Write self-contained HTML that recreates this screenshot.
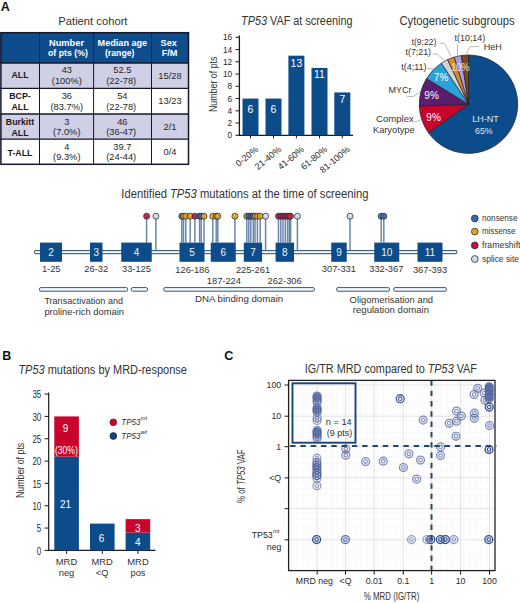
<!DOCTYPE html>
<html><head><meta charset="utf-8"><style>
html,body{margin:0;padding:0;background:#fff;}
svg{display:block;}
svg{fill:#333333;} text{font-family:"Liberation Sans", sans-serif;}
</style></head><body>
<svg width="520" height="603" viewBox="0 0 520 603">
<rect x="0" y="0" width="520" height="603" fill="#fff"/>
<text x="0.80" y="11.20" font-size="12.5" font-weight="bold" fill="#111">A</text>
<text x="58.30" y="24.50" font-size="11.5" textLength="69.20" lengthAdjust="spacingAndGlyphs">Patient cohort</text>
<rect x="0.50" y="32.50" width="188.00" height="30.50" fill="#0e4c8c"/>
<rect x="0.50" y="63.00" width="188.00" height="25.40" fill="#cfd0e6"/>
<rect x="0.50" y="88.40" width="188.00" height="25.60" fill="#ffffff"/>
<rect x="0.50" y="114.00" width="188.00" height="25.20" fill="#cfd0e6"/>
<rect x="0.50" y="139.20" width="188.00" height="25.40" fill="#ffffff"/>
<line x1="39.50" y1="32.50" x2="39.50" y2="63.00" stroke="#0a2f5e" stroke-width="1"/>
<line x1="39.50" y1="63.00" x2="39.50" y2="164.50" stroke="#14172a" stroke-width="1"/>
<line x1="93.60" y1="32.50" x2="93.60" y2="63.00" stroke="#0a2f5e" stroke-width="1"/>
<line x1="93.60" y1="63.00" x2="93.60" y2="164.50" stroke="#14172a" stroke-width="1"/>
<line x1="151.50" y1="32.50" x2="151.50" y2="63.00" stroke="#0a2f5e" stroke-width="1"/>
<line x1="151.50" y1="63.00" x2="151.50" y2="164.50" stroke="#14172a" stroke-width="1"/>
<line x1="0.50" y1="63.00" x2="188.50" y2="63.00" stroke="#14172a" stroke-width="1.4"/>
<line x1="0.50" y1="88.40" x2="188.50" y2="88.40" stroke="#14172a" stroke-width="1.2"/>
<line x1="0.50" y1="114.00" x2="188.50" y2="114.00" stroke="#14172a" stroke-width="1.5"/>
<line x1="0.50" y1="139.20" x2="188.50" y2="139.20" stroke="#14172a" stroke-width="1.2"/>
<rect x="0.9" y="32.7" width="187.6" height="131.6" fill="none" stroke="#14172a" stroke-width="1.5"/>
<text x="66.50" y="45.70" font-size="9.2" text-anchor="middle" font-weight="bold" fill="#fff" textLength="35.00" lengthAdjust="spacingAndGlyphs">Number</text>
<text x="68.00" y="56.00" font-size="9.2" text-anchor="middle" font-weight="bold" fill="#fff" textLength="40.00" lengthAdjust="spacingAndGlyphs">of pts (%)</text>
<text x="122.40" y="45.70" font-size="9.2" text-anchor="middle" font-weight="bold" fill="#fff" textLength="49.60" lengthAdjust="spacingAndGlyphs">Median age</text>
<text x="119.70" y="56.00" font-size="9.2" text-anchor="middle" font-weight="bold" fill="#fff" textLength="29.60" lengthAdjust="spacingAndGlyphs">(range)</text>
<text x="168.80" y="45.60" font-size="9.2" text-anchor="middle" font-weight="bold" fill="#fff">Sex</text>
<text x="169.60" y="56.00" font-size="9.2" text-anchor="middle" font-weight="bold" fill="#fff">F/M</text>
<text x="20.00" y="78.20" font-size="8.8" text-anchor="middle" font-weight="bold" fill="#1a1a1a">ALL</text>
<text x="20.00" y="98.70" font-size="8.8" text-anchor="middle" font-weight="bold" fill="#1a1a1a">BCP-</text>
<text x="20.00" y="109.70" font-size="8.8" text-anchor="middle" font-weight="bold" fill="#1a1a1a">ALL</text>
<text x="20.00" y="124.50" font-size="8.8" text-anchor="middle" font-weight="bold" fill="#1a1a1a">Burkitt</text>
<text x="20.00" y="135.50" font-size="8.8" text-anchor="middle" font-weight="bold" fill="#1a1a1a">ALL</text>
<text x="20.00" y="155.70" font-size="8.8" text-anchor="middle" font-weight="bold" fill="#1a1a1a">T-ALL</text>
<text x="66.80" y="73.00" font-size="9.3" text-anchor="middle" fill="#262626">43</text>
<text x="66.80" y="84.10" font-size="9.3" text-anchor="middle" fill="#262626">(100%)</text>
<text x="122.30" y="73.00" font-size="9.3" text-anchor="middle" fill="#262626">52.5</text>
<text x="121.20" y="84.10" font-size="9.3" text-anchor="middle" fill="#262626">(22-78)</text>
<text x="170.00" y="78.80" font-size="9.3" text-anchor="middle" fill="#262626">15/28</text>
<text x="66.80" y="99.20" font-size="9.3" text-anchor="middle" fill="#262626">36</text>
<text x="66.80" y="109.50" font-size="9.3" text-anchor="middle" fill="#262626">(83.7%)</text>
<text x="122.30" y="99.20" font-size="9.3" text-anchor="middle" fill="#262626">54</text>
<text x="121.20" y="109.50" font-size="9.3" text-anchor="middle" fill="#262626">(22-78)</text>
<text x="170.00" y="104.20" font-size="9.3" text-anchor="middle" fill="#262626">13/23</text>
<text x="66.80" y="124.80" font-size="9.3" text-anchor="middle" fill="#262626">3</text>
<text x="66.80" y="135.10" font-size="9.3" text-anchor="middle" fill="#262626">(7.0%)</text>
<text x="122.30" y="124.80" font-size="9.3" text-anchor="middle" fill="#262626">46</text>
<text x="121.20" y="135.10" font-size="9.3" text-anchor="middle" fill="#262626">(36-47)</text>
<text x="170.00" y="129.80" font-size="9.3" text-anchor="middle" fill="#262626">2/1</text>
<text x="66.80" y="150.00" font-size="9.3" text-anchor="middle" fill="#262626">4</text>
<text x="66.80" y="160.30" font-size="9.3" text-anchor="middle" fill="#262626">(9.3%)</text>
<text x="122.30" y="150.00" font-size="9.3" text-anchor="middle" fill="#262626">39.7</text>
<text x="121.20" y="160.30" font-size="9.3" text-anchor="middle" fill="#262626">(24-44)</text>
<text x="170.00" y="155.00" font-size="9.3" text-anchor="middle" fill="#262626">0/4</text>
<text x="241.00" y="25.00" font-size="12" textLength="111.50" lengthAdjust="spacingAndGlyphs"><tspan font-style="italic">TP53</tspan> VAF at screening</text>
<line x1="239.40" y1="35.50" x2="239.40" y2="135.80" stroke="#1a1a1a" stroke-width="1.3"/>
<line x1="238.50" y1="135.30" x2="353.00" y2="135.30" stroke="#1a1a1a" stroke-width="1.2"/>
<line x1="235.50" y1="135.30" x2="239.40" y2="135.30" stroke="#1a1a1a" stroke-width="1"/>
<text x="232.20" y="138.37" font-size="9.4" text-anchor="end" fill="#2a2a2a" textLength="4.60" lengthAdjust="spacingAndGlyphs">0</text>
<line x1="235.50" y1="123.05" x2="239.40" y2="123.05" stroke="#1a1a1a" stroke-width="1"/>
<text x="232.20" y="126.12" font-size="9.4" text-anchor="end" fill="#2a2a2a" textLength="4.60" lengthAdjust="spacingAndGlyphs">2</text>
<line x1="235.50" y1="110.80" x2="239.40" y2="110.80" stroke="#1a1a1a" stroke-width="1"/>
<text x="232.20" y="113.87" font-size="9.4" text-anchor="end" fill="#2a2a2a" textLength="4.60" lengthAdjust="spacingAndGlyphs">4</text>
<line x1="235.50" y1="98.55" x2="239.40" y2="98.55" stroke="#1a1a1a" stroke-width="1"/>
<text x="232.20" y="101.62" font-size="9.4" text-anchor="end" fill="#2a2a2a" textLength="4.60" lengthAdjust="spacingAndGlyphs">6</text>
<line x1="235.50" y1="86.30" x2="239.40" y2="86.30" stroke="#1a1a1a" stroke-width="1"/>
<text x="232.20" y="89.37" font-size="9.4" text-anchor="end" fill="#2a2a2a" textLength="4.60" lengthAdjust="spacingAndGlyphs">8</text>
<line x1="235.50" y1="74.05" x2="239.40" y2="74.05" stroke="#1a1a1a" stroke-width="1"/>
<text x="232.20" y="77.12" font-size="9.4" text-anchor="end" fill="#2a2a2a" textLength="9.20" lengthAdjust="spacingAndGlyphs">10</text>
<line x1="235.50" y1="61.80" x2="239.40" y2="61.80" stroke="#1a1a1a" stroke-width="1"/>
<text x="232.20" y="64.87" font-size="9.4" text-anchor="end" fill="#2a2a2a" textLength="9.20" lengthAdjust="spacingAndGlyphs">12</text>
<line x1="235.50" y1="49.55" x2="239.40" y2="49.55" stroke="#1a1a1a" stroke-width="1"/>
<text x="232.20" y="52.62" font-size="9.4" text-anchor="end" fill="#2a2a2a" textLength="9.20" lengthAdjust="spacingAndGlyphs">14</text>
<line x1="235.50" y1="37.30" x2="239.40" y2="37.30" stroke="#1a1a1a" stroke-width="1"/>
<text x="232.20" y="40.37" font-size="9.4" text-anchor="end" fill="#2a2a2a" textLength="9.20" lengthAdjust="spacingAndGlyphs">16</text>
<rect x="242.50" y="98.55" width="16.00" height="36.75" fill="#0d4c8a"/>
<text x="250.50" y="113.06" font-size="10.5" text-anchor="middle" fill="#fff">6</text>
<line x1="250.50" y1="135.30" x2="250.50" y2="138.30" stroke="#1a1a1a" stroke-width="1"/>
<text x="258.80" y="150.30" font-size="9" text-anchor="end" fill="#2a2a2a" transform="rotate(-40 258.80 150.30)">0-20%</text>
<rect x="265.50" y="98.55" width="16.00" height="36.75" fill="#0d4c8a"/>
<text x="273.50" y="113.06" font-size="10.5" text-anchor="middle" fill="#fff">6</text>
<line x1="273.50" y1="135.30" x2="273.50" y2="138.30" stroke="#1a1a1a" stroke-width="1"/>
<text x="281.80" y="150.30" font-size="9" text-anchor="end" fill="#2a2a2a" transform="rotate(-40 281.80 150.30)">21-40%</text>
<rect x="288.40" y="55.68" width="16.00" height="79.62" fill="#0d4c8a"/>
<text x="296.40" y="66.86" font-size="10.5" text-anchor="middle" fill="#fff">13</text>
<line x1="296.40" y1="135.30" x2="296.40" y2="138.30" stroke="#1a1a1a" stroke-width="1"/>
<text x="304.70" y="150.30" font-size="9" text-anchor="end" fill="#2a2a2a" transform="rotate(-40 304.70 150.30)">41-60%</text>
<rect x="311.50" y="67.93" width="16.00" height="67.38" fill="#0d4c8a"/>
<text x="319.50" y="77.66" font-size="10.5" text-anchor="middle" fill="#fff">11</text>
<line x1="319.50" y1="135.30" x2="319.50" y2="138.30" stroke="#1a1a1a" stroke-width="1"/>
<text x="327.80" y="150.30" font-size="9" text-anchor="end" fill="#2a2a2a" transform="rotate(-40 327.80 150.30)">61-80%</text>
<rect x="334.30" y="92.43" width="16.00" height="42.88" fill="#0d4c8a"/>
<text x="342.30" y="102.66" font-size="10.5" text-anchor="middle" fill="#fff">7</text>
<line x1="342.30" y1="135.30" x2="342.30" y2="138.30" stroke="#1a1a1a" stroke-width="1"/>
<text x="350.60" y="150.30" font-size="9" text-anchor="end" fill="#2a2a2a" transform="rotate(-40 350.60 150.30)">81-100%</text>
<text x="0" y="0" font-size="10" text-anchor="middle" fill="#333" transform="translate(216.8 84.3) rotate(-90)" textLength="55.6" lengthAdjust="spacingAndGlyphs">Number of pts</text>
<text x="399.40" y="25.20" font-size="12" textLength="115.20" lengthAdjust="spacingAndGlyphs">Cytogenetic subgroups</text>
<path d="M468.50,104.20 L468.50,55.00 A49.2,49.2 0 1 1 428.49,132.83 Z" fill="#0d4c8a" stroke="#1c1c28" stroke-width="0.7" stroke-linejoin="round"/>
<path d="M468.50,104.20 L428.49,132.83 A49.2,49.2 0 0 1 419.33,106.00 Z" fill="#c8042d" stroke="#1c1c28" stroke-width="0.7" stroke-linejoin="round"/>
<path d="M468.50,104.20 L419.33,106.00 A49.2,49.2 0 0 1 426.50,78.57 Z" fill="#5b1d6e" stroke="#1c1c28" stroke-width="0.7" stroke-linejoin="round"/>
<path d="M468.50,104.20 L426.50,78.57 A49.2,49.2 0 0 1 441.35,63.17 Z" fill="#2aa3dc" stroke="#1c1c28" stroke-width="0.7" stroke-linejoin="round"/>
<path d="M468.50,104.20 L441.35,63.17 A49.2,49.2 0 0 1 447.62,59.65 Z" fill="#d2d2d2" stroke="#1c1c28" stroke-width="0.7" stroke-linejoin="round"/>
<path d="M468.50,104.20 L447.62,59.65 A49.2,49.2 0 0 1 454.33,57.09 Z" fill="#d98a2b" stroke="#1c1c28" stroke-width="0.7" stroke-linejoin="round"/>
<path d="M468.50,104.20 L454.33,57.09 A49.2,49.2 0 0 1 461.34,55.52 Z" fill="#a99fe0" stroke="#1c1c28" stroke-width="0.7" stroke-linejoin="round"/>
<path d="M468.50,104.20 L461.34,55.52 A49.2,49.2 0 0 1 468.50,55.00 Z" fill="#7b4a1c" stroke="#1c1c28" stroke-width="0.7" stroke-linejoin="round"/>
<text x="441.10" y="80.98" font-size="10" text-anchor="middle" fill="#fff">7%</text>
<text x="431.60" y="98.58" font-size="10" text-anchor="middle" fill="#fff">9%</text>
<text x="433.60" y="121.38" font-size="10" text-anchor="middle" fill="#fff">9%</text>
<text x="460.20" y="70.72" font-size="10.4" text-anchor="middle" fill="#f3e6d8" textLength="18.50" lengthAdjust="spacingAndGlyphs">10%</text>
<text x="485.50" y="122.04" font-size="9.6" text-anchor="middle" fill="#dce8f8" textLength="26.40" lengthAdjust="spacingAndGlyphs">LH-NT</text>
<text x="483.90" y="133.84" font-size="9.6" text-anchor="middle" fill="#dce8f8" textLength="17.60" lengthAdjust="spacingAndGlyphs">65%</text>
<text x="411.60" y="44.59" font-size="9.2" textLength="24.80" lengthAdjust="spacingAndGlyphs">t(9;22)</text>
<text x="454.60" y="40.59" font-size="9.2" textLength="30.60" lengthAdjust="spacingAndGlyphs">t(10;14)</text>
<text x="483.70" y="49.99" font-size="9.2" textLength="18.20" lengthAdjust="spacingAndGlyphs">HeH</text>
<text x="405.60" y="54.59" font-size="9.2" textLength="25.40" lengthAdjust="spacingAndGlyphs">t(7;21)</text>
<text x="401.20" y="70.09" font-size="9.2" textLength="25.30" lengthAdjust="spacingAndGlyphs">t(4;11)</text>
<text x="388.50" y="93.29" font-size="9.2" textLength="23.00" lengthAdjust="spacingAndGlyphs">MYCr</text>
<text x="376.00" y="122.49" font-size="9.2" textLength="37.80" lengthAdjust="spacingAndGlyphs">Complex</text>
<text x="373.00" y="133.29" font-size="9.2" textLength="41.60" lengthAdjust="spacingAndGlyphs">Karyotype</text>
<polyline points="440.2,43.3 444.6,43.3 450.8,56.2" fill="none" stroke="#a8a8a8" stroke-width="0.8"/>
<polyline points="457.5,43.5 457.5,55.6" fill="none" stroke="#a8a8a8" stroke-width="0.8"/>
<polyline points="479.5,46.6 470.2,46.6 466,54.8" fill="none" stroke="#a8a8a8" stroke-width="0.8"/>
<polyline points="432.8,54 437,54 444.4,60.3" fill="none" stroke="#a8a8a8" stroke-width="0.8"/>
<polyline points="427,68.6 433.5,68.6" fill="none" stroke="#a8a8a8" stroke-width="0.8"/>
<polyline points="407,96.5 413,96.5 419.5,92.5" fill="none" stroke="#a8a8a8" stroke-width="0.8"/>
<polyline points="414.5,122.5 421,119.5" fill="none" stroke="#a8a8a8" stroke-width="0.8"/>
<text x="121.30" y="198.30" font-size="12" textLength="247.20" lengthAdjust="spacingAndGlyphs">Identified <tspan font-style="italic">TP53</tspan> mutations at the time of screening</text>
<rect x="34.6" y="250.6" width="422.2" height="3.1" fill="#eef7fc" stroke="#22405f" stroke-width="0.95" rx="0.6"/>
<line x1="146.60" y1="216.20" x2="146.60" y2="242.60" stroke="#4f729c" stroke-width="1.5" stroke-opacity="0.85"/>
<line x1="155.90" y1="216.20" x2="155.90" y2="250.60" stroke="#4f729c" stroke-width="1.5" stroke-opacity="0.85"/>
<line x1="181.80" y1="216.20" x2="181.80" y2="242.60" stroke="#4f729c" stroke-width="1.5" stroke-opacity="0.85"/>
<line x1="183.50" y1="216.20" x2="183.50" y2="242.60" stroke="#4f729c" stroke-width="1.5" stroke-opacity="0.85"/>
<line x1="185.80" y1="216.20" x2="185.80" y2="242.60" stroke="#4f729c" stroke-width="1.5" stroke-opacity="0.85"/>
<line x1="190.20" y1="216.20" x2="190.20" y2="242.60" stroke="#4f729c" stroke-width="1.5" stroke-opacity="0.85"/>
<line x1="194.90" y1="216.20" x2="194.90" y2="242.60" stroke="#4f729c" stroke-width="1.5" stroke-opacity="0.85"/>
<line x1="199.60" y1="216.20" x2="199.60" y2="242.60" stroke="#4f729c" stroke-width="1.5" stroke-opacity="0.85"/>
<line x1="201.20" y1="216.20" x2="201.20" y2="242.60" stroke="#4f729c" stroke-width="1.5" stroke-opacity="0.85"/>
<line x1="204.00" y1="216.20" x2="204.00" y2="242.60" stroke="#4f729c" stroke-width="1.5" stroke-opacity="0.85"/>
<line x1="212.80" y1="216.20" x2="212.80" y2="242.60" stroke="#4f729c" stroke-width="1.5" stroke-opacity="0.85"/>
<line x1="216.20" y1="216.20" x2="216.20" y2="242.60" stroke="#4f729c" stroke-width="1.5" stroke-opacity="0.85"/>
<line x1="217.80" y1="216.20" x2="217.80" y2="242.60" stroke="#4f729c" stroke-width="1.5" stroke-opacity="0.85"/>
<line x1="234.90" y1="216.20" x2="234.90" y2="242.60" stroke="#4f729c" stroke-width="1.5" stroke-opacity="0.85"/>
<line x1="246.80" y1="216.20" x2="246.80" y2="242.60" stroke="#4f729c" stroke-width="1.5" stroke-opacity="0.85"/>
<line x1="248.80" y1="216.20" x2="248.80" y2="242.60" stroke="#4f729c" stroke-width="1.5" stroke-opacity="0.85"/>
<line x1="250.80" y1="216.20" x2="250.80" y2="242.60" stroke="#4f729c" stroke-width="1.5" stroke-opacity="0.85"/>
<line x1="253.30" y1="216.20" x2="253.30" y2="242.60" stroke="#4f729c" stroke-width="1.5" stroke-opacity="0.85"/>
<line x1="255.00" y1="216.20" x2="255.00" y2="242.60" stroke="#4f729c" stroke-width="1.5" stroke-opacity="0.85"/>
<line x1="257.40" y1="216.20" x2="257.40" y2="242.60" stroke="#4f729c" stroke-width="1.5" stroke-opacity="0.85"/>
<line x1="260.20" y1="216.20" x2="260.20" y2="242.60" stroke="#4f729c" stroke-width="1.5" stroke-opacity="0.85"/>
<line x1="265.60" y1="216.20" x2="265.60" y2="250.60" stroke="#4f729c" stroke-width="1.5" stroke-opacity="0.85"/>
<line x1="278.50" y1="216.20" x2="278.50" y2="242.60" stroke="#4f729c" stroke-width="1.5" stroke-opacity="0.85"/>
<line x1="280.80" y1="216.20" x2="280.80" y2="242.60" stroke="#4f729c" stroke-width="1.5" stroke-opacity="0.85"/>
<line x1="283.00" y1="216.20" x2="283.00" y2="242.60" stroke="#4f729c" stroke-width="1.5" stroke-opacity="0.85"/>
<line x1="285.30" y1="216.20" x2="285.30" y2="242.60" stroke="#4f729c" stroke-width="1.5" stroke-opacity="0.85"/>
<line x1="287.60" y1="216.20" x2="287.60" y2="242.60" stroke="#4f729c" stroke-width="1.5" stroke-opacity="0.85"/>
<line x1="290.60" y1="216.20" x2="290.60" y2="242.60" stroke="#4f729c" stroke-width="1.5" stroke-opacity="0.85"/>
<line x1="289.30" y1="216.20" x2="289.30" y2="242.60" stroke="#4f729c" stroke-width="1.5" stroke-opacity="0.85"/>
<line x1="297.40" y1="216.20" x2="297.40" y2="250.60" stroke="#4f729c" stroke-width="1.5" stroke-opacity="0.85"/>
<line x1="350.00" y1="216.20" x2="350.00" y2="250.60" stroke="#4f729c" stroke-width="1.5" stroke-opacity="0.85"/>
<line x1="381.20" y1="216.20" x2="381.20" y2="242.60" stroke="#4f729c" stroke-width="1.5" stroke-opacity="0.85"/>
<line x1="383.80" y1="216.20" x2="383.80" y2="242.60" stroke="#4f729c" stroke-width="1.5" stroke-opacity="0.85"/>
<rect x="40.00" y="242.60" width="22.00" height="19.20" fill="#0d4c8a"/>
<text x="51.00" y="255.98" font-size="10" text-anchor="middle" fill="#eef4fb">2</text>
<rect x="90.00" y="242.60" width="12.50" height="19.20" fill="#0d4c8a"/>
<text x="96.25" y="255.98" font-size="10" text-anchor="middle" fill="#eef4fb">3</text>
<rect x="121.25" y="242.60" width="30.50" height="19.20" fill="#0d4c8a"/>
<text x="136.50" y="255.98" font-size="10" text-anchor="middle" fill="#eef4fb">4</text>
<rect x="179.50" y="242.60" width="25.00" height="19.20" fill="#0d4c8a"/>
<text x="192.00" y="255.98" font-size="10" text-anchor="middle" fill="#eef4fb">5</text>
<rect x="210.75" y="242.60" width="25.00" height="19.20" fill="#0d4c8a"/>
<text x="223.25" y="255.98" font-size="10" text-anchor="middle" fill="#eef4fb">6</text>
<rect x="243.80" y="242.60" width="18.30" height="19.20" fill="#0d4c8a"/>
<text x="252.95" y="255.98" font-size="10" text-anchor="middle" fill="#eef4fb">7</text>
<rect x="275.60" y="242.60" width="18.40" height="19.20" fill="#0d4c8a"/>
<text x="284.80" y="255.98" font-size="10" text-anchor="middle" fill="#eef4fb">8</text>
<rect x="331.25" y="242.60" width="15.50" height="19.20" fill="#0d4c8a"/>
<text x="339.00" y="255.98" font-size="10" text-anchor="middle" fill="#eef4fb">9</text>
<rect x="374.25" y="242.60" width="25.00" height="19.20" fill="#0d4c8a"/>
<text x="386.75" y="255.98" font-size="10" text-anchor="middle" fill="#eef4fb">10</text>
<rect x="417.50" y="242.60" width="25.00" height="19.20" fill="#0d4c8a"/>
<text x="430.00" y="255.98" font-size="10" text-anchor="middle" fill="#eef4fb">11</text>
<circle cx="146.60" cy="216.20" r="3.00" fill="#c20f3a" stroke="#2b3340" stroke-width="0.8" fill-opacity="0.88"/>
<circle cx="155.90" cy="216.20" r="3.00" fill="#d3d9ec" stroke="#2b3340" stroke-width="0.8" fill-opacity="0.88"/>
<circle cx="181.80" cy="216.20" r="3.00" fill="#3d67a6" stroke="#2b3340" stroke-width="0.8" fill-opacity="0.88"/>
<circle cx="183.50" cy="216.20" r="3.00" fill="#e3a21c" stroke="#2b3340" stroke-width="0.8" fill-opacity="0.88"/>
<circle cx="185.80" cy="216.20" r="3.00" fill="#e3a21c" stroke="#2b3340" stroke-width="0.8" fill-opacity="0.88"/>
<circle cx="190.20" cy="216.20" r="3.00" fill="#e3a21c" stroke="#2b3340" stroke-width="0.8" fill-opacity="0.88"/>
<circle cx="194.90" cy="216.20" r="3.00" fill="#c20f3a" stroke="#2b3340" stroke-width="0.8" fill-opacity="0.88"/>
<circle cx="199.60" cy="216.20" r="3.00" fill="#3d67a6" stroke="#2b3340" stroke-width="0.8" fill-opacity="0.88"/>
<circle cx="201.20" cy="216.20" r="3.00" fill="#3d67a6" stroke="#2b3340" stroke-width="0.8" fill-opacity="0.88"/>
<circle cx="204.00" cy="216.20" r="3.00" fill="#e3a21c" stroke="#2b3340" stroke-width="0.8" fill-opacity="0.88"/>
<circle cx="212.80" cy="216.20" r="3.00" fill="#e3a21c" stroke="#2b3340" stroke-width="0.8" fill-opacity="0.88"/>
<circle cx="216.20" cy="216.20" r="3.00" fill="#e3a21c" stroke="#2b3340" stroke-width="0.8" fill-opacity="0.88"/>
<circle cx="217.80" cy="216.20" r="3.00" fill="#e3a21c" stroke="#2b3340" stroke-width="0.8" fill-opacity="0.88"/>
<circle cx="234.90" cy="216.20" r="3.00" fill="#e3a21c" stroke="#2b3340" stroke-width="0.8" fill-opacity="0.88"/>
<circle cx="246.80" cy="216.20" r="3.00" fill="#e3a21c" stroke="#2b3340" stroke-width="0.8" fill-opacity="0.88"/>
<circle cx="248.80" cy="216.20" r="3.00" fill="#3d67a6" stroke="#2b3340" stroke-width="0.8" fill-opacity="0.88"/>
<circle cx="250.80" cy="216.20" r="3.00" fill="#3d67a6" stroke="#2b3340" stroke-width="0.8" fill-opacity="0.88"/>
<circle cx="253.30" cy="216.20" r="3.00" fill="#3d67a6" stroke="#2b3340" stroke-width="0.8" fill-opacity="0.88"/>
<circle cx="255.00" cy="216.20" r="3.00" fill="#e3a21c" stroke="#2b3340" stroke-width="0.8" fill-opacity="0.88"/>
<circle cx="257.40" cy="216.20" r="3.00" fill="#e3a21c" stroke="#2b3340" stroke-width="0.8" fill-opacity="0.88"/>
<circle cx="260.20" cy="216.20" r="3.00" fill="#e3a21c" stroke="#2b3340" stroke-width="0.8" fill-opacity="0.88"/>
<circle cx="265.60" cy="216.20" r="3.00" fill="#d3d9ec" stroke="#2b3340" stroke-width="0.8" fill-opacity="0.88"/>
<circle cx="278.50" cy="216.20" r="3.00" fill="#c20f3a" stroke="#2b3340" stroke-width="0.8" fill-opacity="0.88"/>
<circle cx="280.80" cy="216.20" r="3.00" fill="#c20f3a" stroke="#2b3340" stroke-width="0.8" fill-opacity="0.88"/>
<circle cx="283.00" cy="216.20" r="3.00" fill="#c20f3a" stroke="#2b3340" stroke-width="0.8" fill-opacity="0.88"/>
<circle cx="285.30" cy="216.20" r="3.00" fill="#c20f3a" stroke="#2b3340" stroke-width="0.8" fill-opacity="0.88"/>
<circle cx="287.60" cy="216.20" r="3.00" fill="#c20f3a" stroke="#2b3340" stroke-width="0.8" fill-opacity="0.88"/>
<circle cx="290.60" cy="216.20" r="3.00" fill="#e3a21c" stroke="#2b3340" stroke-width="0.8" fill-opacity="0.88"/>
<circle cx="289.30" cy="216.20" r="3.00" fill="#c20f3a" stroke="#2b3340" stroke-width="0.8" fill-opacity="0.88"/>
<circle cx="297.40" cy="216.20" r="3.00" fill="#d3d9ec" stroke="#2b3340" stroke-width="0.8" fill-opacity="0.88"/>
<circle cx="350.00" cy="216.20" r="3.00" fill="#d3d9ec" stroke="#2b3340" stroke-width="0.8" fill-opacity="0.88"/>
<circle cx="381.20" cy="216.20" r="3.00" fill="#3d67a6" stroke="#2b3340" stroke-width="0.8" fill-opacity="0.88"/>
<circle cx="383.80" cy="216.20" r="3.00" fill="#3d67a6" stroke="#2b3340" stroke-width="0.8" fill-opacity="0.88"/>
<text x="51.25" y="272.33" font-size="9.3" text-anchor="middle">1-25</text>
<text x="96.25" y="272.33" font-size="9.3" text-anchor="middle">26-32</text>
<text x="136.50" y="272.33" font-size="9.3" text-anchor="middle">33-125</text>
<text x="192.40" y="272.53" font-size="9.3" text-anchor="middle">126-186</text>
<text x="223.90" y="283.63" font-size="9.3" text-anchor="middle">187-224</text>
<text x="253.00" y="272.53" font-size="9.3" text-anchor="middle">225-261</text>
<text x="284.60" y="283.63" font-size="9.3" text-anchor="middle">262-306</text>
<text x="338.90" y="272.33" font-size="9.3" text-anchor="middle">307-331</text>
<text x="386.30" y="272.33" font-size="9.3" text-anchor="middle">332-367</text>
<text x="430.00" y="272.53" font-size="9.3" text-anchor="middle">367-393</text>
<rect x="39.50" y="287.6" width="88.20" height="3.6" fill="#f2f8fd" stroke="#3b5878" stroke-width="1" rx="1.3"/>
<rect x="131.25" y="287.6" width="16.25" height="3.6" fill="#f2f8fd" stroke="#3b5878" stroke-width="1" rx="1.3"/>
<rect x="163.80" y="287.6" width="150.60" height="3.6" fill="#f2f8fd" stroke="#3b5878" stroke-width="1" rx="1.3"/>
<rect x="336.70" y="287.6" width="52.80" height="3.6" fill="#f2f8fd" stroke="#3b5878" stroke-width="1" rx="1.3"/>
<rect x="393.75" y="287.6" width="52.65" height="3.6" fill="#f2f8fd" stroke="#3b5878" stroke-width="1" rx="1.3"/>
<text x="44.40" y="303.67" font-size="9.4" textLength="78.60" lengthAdjust="spacingAndGlyphs">Transactivation and</text>
<text x="44.40" y="314.67" font-size="9.4" textLength="79.60" lengthAdjust="spacingAndGlyphs">proline-rich domain</text>
<text x="195.00" y="302.17" font-size="9.4" textLength="88.20" lengthAdjust="spacingAndGlyphs">DNA binding domain</text>
<text x="349.60" y="302.77" font-size="9.4" textLength="83.50" lengthAdjust="spacingAndGlyphs">Oligomerisation and</text>
<text x="352.80" y="312.97" font-size="9.4" textLength="76.20" lengthAdjust="spacingAndGlyphs">regulation domain</text>
<circle cx="474.80" cy="218.50" r="3.40" fill="#3d67a6" stroke="#26304a" stroke-width="0.8"/>
<text x="482.00" y="221.31" font-size="8.7" textLength="35.50" lengthAdjust="spacingAndGlyphs">nonsense</text>
<circle cx="474.80" cy="231.60" r="3.40" fill="#e3a21c" stroke="#26304a" stroke-width="0.8"/>
<text x="482.00" y="234.41" font-size="8.7" textLength="33.50" lengthAdjust="spacingAndGlyphs">missense</text>
<circle cx="474.80" cy="245.40" r="3.40" fill="#c20f3a" stroke="#26304a" stroke-width="0.8"/>
<text x="482.00" y="248.21" font-size="8.7" textLength="38.50" lengthAdjust="spacingAndGlyphs">frameshift</text>
<circle cx="474.80" cy="259.00" r="3.40" fill="#d3d9ec" stroke="#26304a" stroke-width="0.8"/>
<text x="482.00" y="261.81" font-size="8.7" textLength="37.00" lengthAdjust="spacingAndGlyphs">splice site</text>
<text x="2.20" y="359.70" font-size="12.5" font-weight="bold" fill="#111">B</text>
<text x="18.40" y="373.50" font-size="12" textLength="168.50" lengthAdjust="spacingAndGlyphs"><tspan font-style="italic">TP53</tspan> mutations by MRD-response</text>
<line x1="48.70" y1="392.50" x2="48.70" y2="551.00" stroke="#1a1a1a" stroke-width="1.2"/>
<line x1="48.10" y1="550.40" x2="155.50" y2="550.40" stroke="#1a1a1a" stroke-width="1.2"/>
<line x1="44.60" y1="550.40" x2="48.70" y2="550.40" stroke="#1a1a1a" stroke-width="1"/>
<text x="41.30" y="554.58" font-size="10" text-anchor="end" fill="#2a2a2a" textLength="4.45" lengthAdjust="spacingAndGlyphs">0</text>
<line x1="44.60" y1="528.07" x2="48.70" y2="528.07" stroke="#1a1a1a" stroke-width="1"/>
<text x="41.30" y="532.25" font-size="10" text-anchor="end" fill="#2a2a2a" textLength="4.45" lengthAdjust="spacingAndGlyphs">5</text>
<line x1="44.60" y1="505.74" x2="48.70" y2="505.74" stroke="#1a1a1a" stroke-width="1"/>
<text x="41.30" y="509.92" font-size="10" text-anchor="end" fill="#2a2a2a" textLength="8.90" lengthAdjust="spacingAndGlyphs">10</text>
<line x1="44.60" y1="483.41" x2="48.70" y2="483.41" stroke="#1a1a1a" stroke-width="1"/>
<text x="41.30" y="487.59" font-size="10" text-anchor="end" fill="#2a2a2a" textLength="8.90" lengthAdjust="spacingAndGlyphs">15</text>
<line x1="44.60" y1="461.08" x2="48.70" y2="461.08" stroke="#1a1a1a" stroke-width="1"/>
<text x="41.30" y="465.26" font-size="10" text-anchor="end" fill="#2a2a2a" textLength="8.90" lengthAdjust="spacingAndGlyphs">20</text>
<line x1="44.60" y1="438.75" x2="48.70" y2="438.75" stroke="#1a1a1a" stroke-width="1"/>
<text x="41.30" y="442.93" font-size="10" text-anchor="end" fill="#2a2a2a" textLength="8.90" lengthAdjust="spacingAndGlyphs">25</text>
<line x1="44.60" y1="416.42" x2="48.70" y2="416.42" stroke="#1a1a1a" stroke-width="1"/>
<text x="41.30" y="420.60" font-size="10" text-anchor="end" fill="#2a2a2a" textLength="8.90" lengthAdjust="spacingAndGlyphs">30</text>
<line x1="44.60" y1="394.09" x2="48.70" y2="394.09" stroke="#1a1a1a" stroke-width="1"/>
<text x="41.30" y="398.27" font-size="10" text-anchor="end" fill="#2a2a2a" textLength="8.90" lengthAdjust="spacingAndGlyphs">35</text>
<rect x="54.30" y="456.61" width="24.60" height="93.79" fill="#0d4c8a"/>
<rect x="54.30" y="416.42" width="24.60" height="40.19" fill="#c8042d"/>
<line x1="66.60" y1="550.40" x2="66.60" y2="553.90" stroke="#1a1a1a" stroke-width="1"/>
<rect x="90.00" y="523.60" width="24.60" height="26.80" fill="#0d4c8a"/>
<line x1="102.30" y1="550.40" x2="102.30" y2="553.90" stroke="#1a1a1a" stroke-width="1"/>
<rect x="125.60" y="532.54" width="24.60" height="17.86" fill="#0d4c8a"/>
<rect x="125.60" y="519.14" width="24.60" height="13.40" fill="#c8042d"/>
<line x1="137.90" y1="550.40" x2="137.90" y2="553.90" stroke="#1a1a1a" stroke-width="1"/>
<text x="65.50" y="432.48" font-size="10" text-anchor="middle" fill="#fff">9</text>
<text x="66.40" y="453.88" font-size="10" text-anchor="middle" fill="#fff" textLength="22.80" lengthAdjust="spacingAndGlyphs">(30%)</text>
<text x="65.50" y="508.08" font-size="10" text-anchor="middle" fill="#fff">21</text>
<text x="101.60" y="542.18" font-size="10" text-anchor="middle" fill="#fff">6</text>
<text x="137.80" y="531.78" font-size="10" text-anchor="middle" fill="#fff">3</text>
<text x="137.80" y="545.58" font-size="10" text-anchor="middle" fill="#fff">4</text>
<circle cx="113.30" cy="422.30" r="3.40" fill="#c8002c" stroke="#7a1a2a" stroke-width="0.7"/>
<circle cx="113.30" cy="436.00" r="3.40" fill="#15457f" stroke="#16294a" stroke-width="0.7"/>
<text x="121.30" y="425.20" font-size="9.6" font-style="italic" textLength="19.20" lengthAdjust="spacingAndGlyphs">TP53</text>
<text x="140.60" y="420.30" font-size="6" font-style="italic" textLength="6.60" lengthAdjust="spacingAndGlyphs">mt</text>
<text x="121.30" y="439.10" font-size="9.6" font-style="italic" textLength="19.20" lengthAdjust="spacingAndGlyphs">TP53</text>
<text x="140.60" y="434.20" font-size="6" font-style="italic" textLength="6.60" lengthAdjust="spacingAndGlyphs">wt</text>
<text x="0" y="0" font-size="10" text-anchor="middle" fill="#333" transform="translate(24.3 470.4) rotate(-90)" textLength="55.3" lengthAdjust="spacingAndGlyphs">Number of pts</text>
<text x="66.50" y="565.37" font-size="9.4" text-anchor="middle">MRD</text>
<text x="66.50" y="575.97" font-size="9.4" text-anchor="middle">neg</text>
<text x="102.20" y="565.37" font-size="9.4" text-anchor="middle">MRD</text>
<text x="102.20" y="575.97" font-size="9.4" text-anchor="middle">&lt;Q</text>
<text x="138.00" y="565.37" font-size="9.4" text-anchor="middle">MRD</text>
<text x="138.00" y="575.97" font-size="9.4" text-anchor="middle">pos</text>
<text x="224.30" y="360.00" font-size="12.5" font-weight="bold" fill="#111">C</text>
<text x="304.70" y="373.30" font-size="12" textLength="172.30" lengthAdjust="spacingAndGlyphs">IG/TR MRD compared to <tspan font-style="italic">TP53</tspan> VAF</text>
<g stroke="#f3f3f4" stroke-width="0.5">
<line x1="291.50" y1="380.4" x2="291.50" y2="570.6"/>
<line x1="297.25" y1="380.4" x2="297.25" y2="570.6"/>
<line x1="303.00" y1="380.4" x2="303.00" y2="570.6"/>
<line x1="308.75" y1="380.4" x2="308.75" y2="570.6"/>
<line x1="314.50" y1="380.4" x2="314.50" y2="570.6"/>
<line x1="320.25" y1="380.4" x2="320.25" y2="570.6"/>
<line x1="326.00" y1="380.4" x2="326.00" y2="570.6"/>
<line x1="331.75" y1="380.4" x2="331.75" y2="570.6"/>
<line x1="337.50" y1="380.4" x2="337.50" y2="570.6"/>
<line x1="343.25" y1="380.4" x2="343.25" y2="570.6"/>
<line x1="349.00" y1="380.4" x2="349.00" y2="570.6"/>
<line x1="354.75" y1="380.4" x2="354.75" y2="570.6"/>
<line x1="360.50" y1="380.4" x2="360.50" y2="570.6"/>
<line x1="366.25" y1="380.4" x2="366.25" y2="570.6"/>
<line x1="372.00" y1="380.4" x2="372.00" y2="570.6"/>
<line x1="377.75" y1="380.4" x2="377.75" y2="570.6"/>
<line x1="383.50" y1="380.4" x2="383.50" y2="570.6"/>
<line x1="389.25" y1="380.4" x2="389.25" y2="570.6"/>
<line x1="395.00" y1="380.4" x2="395.00" y2="570.6"/>
<line x1="400.75" y1="380.4" x2="400.75" y2="570.6"/>
<line x1="406.50" y1="380.4" x2="406.50" y2="570.6"/>
<line x1="412.25" y1="380.4" x2="412.25" y2="570.6"/>
<line x1="418.00" y1="380.4" x2="418.00" y2="570.6"/>
<line x1="423.75" y1="380.4" x2="423.75" y2="570.6"/>
<line x1="429.50" y1="380.4" x2="429.50" y2="570.6"/>
<line x1="435.25" y1="380.4" x2="435.25" y2="570.6"/>
<line x1="441.00" y1="380.4" x2="441.00" y2="570.6"/>
<line x1="446.75" y1="380.4" x2="446.75" y2="570.6"/>
<line x1="452.50" y1="380.4" x2="452.50" y2="570.6"/>
<line x1="458.25" y1="380.4" x2="458.25" y2="570.6"/>
<line x1="464.00" y1="380.4" x2="464.00" y2="570.6"/>
<line x1="469.75" y1="380.4" x2="469.75" y2="570.6"/>
<line x1="475.50" y1="380.4" x2="475.50" y2="570.6"/>
<line x1="481.25" y1="380.4" x2="481.25" y2="570.6"/>
<line x1="487.00" y1="380.4" x2="487.00" y2="570.6"/>
<line x1="492.75" y1="380.4" x2="492.75" y2="570.6"/>
<line x1="288.6" y1="383.00" x2="495.0" y2="383.00"/>
<line x1="288.6" y1="389.20" x2="495.0" y2="389.20"/>
<line x1="288.6" y1="395.40" x2="495.0" y2="395.40"/>
<line x1="288.6" y1="401.60" x2="495.0" y2="401.60"/>
<line x1="288.6" y1="407.80" x2="495.0" y2="407.80"/>
<line x1="288.6" y1="414.00" x2="495.0" y2="414.00"/>
<line x1="288.6" y1="420.20" x2="495.0" y2="420.20"/>
<line x1="288.6" y1="426.40" x2="495.0" y2="426.40"/>
<line x1="288.6" y1="432.60" x2="495.0" y2="432.60"/>
<line x1="288.6" y1="438.80" x2="495.0" y2="438.80"/>
<line x1="288.6" y1="445.00" x2="495.0" y2="445.00"/>
<line x1="288.6" y1="451.20" x2="495.0" y2="451.20"/>
<line x1="288.6" y1="457.40" x2="495.0" y2="457.40"/>
<line x1="288.6" y1="463.60" x2="495.0" y2="463.60"/>
<line x1="288.6" y1="469.80" x2="495.0" y2="469.80"/>
<line x1="288.6" y1="476.00" x2="495.0" y2="476.00"/>
<line x1="288.6" y1="482.20" x2="495.0" y2="482.20"/>
<line x1="288.6" y1="488.40" x2="495.0" y2="488.40"/>
<line x1="288.6" y1="494.60" x2="495.0" y2="494.60"/>
<line x1="288.6" y1="500.80" x2="495.0" y2="500.80"/>
<line x1="288.6" y1="507.00" x2="495.0" y2="507.00"/>
<line x1="288.6" y1="513.20" x2="495.0" y2="513.20"/>
<line x1="288.6" y1="519.40" x2="495.0" y2="519.40"/>
<line x1="288.6" y1="525.60" x2="495.0" y2="525.60"/>
<line x1="288.6" y1="531.80" x2="495.0" y2="531.80"/>
<line x1="288.6" y1="538.00" x2="495.0" y2="538.00"/>
<line x1="288.6" y1="544.20" x2="495.0" y2="544.20"/>
<line x1="288.6" y1="550.40" x2="495.0" y2="550.40"/>
<line x1="288.6" y1="556.60" x2="495.0" y2="556.60"/>
<line x1="288.6" y1="562.80" x2="495.0" y2="562.80"/>
<line x1="288.6" y1="569.00" x2="495.0" y2="569.00"/>
</g>
<g stroke="#e3e3e5" stroke-width="1">
<line x1="317.20" y1="380.4" x2="317.20" y2="570.6"/>
<line x1="345.50" y1="380.4" x2="345.50" y2="570.6"/>
<line x1="374.20" y1="380.4" x2="374.20" y2="570.6"/>
<line x1="403.30" y1="380.4" x2="403.30" y2="570.6"/>
<line x1="431.60" y1="380.4" x2="431.60" y2="570.6"/>
<line x1="460.60" y1="380.4" x2="460.60" y2="570.6"/>
<line x1="489.50" y1="380.4" x2="489.50" y2="570.6"/>
<line x1="288.6" y1="385.00" x2="495.0" y2="385.00"/>
<line x1="288.6" y1="416.20" x2="495.0" y2="416.20"/>
<line x1="288.6" y1="446.70" x2="495.0" y2="446.70"/>
<line x1="288.6" y1="477.90" x2="495.0" y2="477.90"/>
<line x1="288.6" y1="508.70" x2="495.0" y2="508.70"/>
<line x1="288.6" y1="539.80" x2="495.0" y2="539.80"/>
</g>
<rect x="485.10" y="382.90" width="8.2" height="18.70" rx="4.1" fill="#4662a6" opacity="0.95"/>
<rect x="312.80" y="392.40" width="8.2" height="9.10" rx="4.1" fill="#5f70ad" opacity="0.85"/>
<rect x="312.80" y="405.30" width="8.2" height="8.50" rx="4.1" fill="#5a6cab" opacity="0.85"/>
<rect x="312.80" y="427.20" width="8.2" height="10.60" rx="4.1" fill="#5a6cab" opacity="0.85"/>
<rect x="312.80" y="463.00" width="8.2" height="8.50" rx="4.1" fill="#6476b2" opacity="0.7"/>
<g opacity="0.75"><circle cx="317.10" cy="396.00" r="3.95" fill="#c9d0ea" fill-opacity="0.25" stroke="#4d5c98" stroke-width="1.3"/><circle cx="317.10" cy="396.00" r="1.8" fill="none" stroke="#4d5c98" stroke-width="1.1"/></g>
<g opacity="0.75"><circle cx="317.10" cy="398.30" r="3.95" fill="#c9d0ea" fill-opacity="0.25" stroke="#4d5c98" stroke-width="1.3"/><circle cx="317.10" cy="398.30" r="1.8" fill="none" stroke="#4d5c98" stroke-width="1.1"/></g>
<g opacity="0.75"><circle cx="317.10" cy="400.50" r="3.95" fill="#c9d0ea" fill-opacity="0.25" stroke="#4d5c98" stroke-width="1.3"/><circle cx="317.10" cy="400.50" r="1.8" fill="none" stroke="#4d5c98" stroke-width="1.1"/></g>
<g opacity="0.62"><circle cx="317.10" cy="402.50" r="3.95" fill="#c9d0ea" fill-opacity="0.25" stroke="#4d5c98" stroke-width="1.3"/><circle cx="317.10" cy="402.50" r="1.8" fill="none" stroke="#4d5c98" stroke-width="1.1"/></g>
<g opacity="0.75"><circle cx="317.10" cy="408.00" r="3.95" fill="#c9d0ea" fill-opacity="0.25" stroke="#4d5c98" stroke-width="1.3"/><circle cx="317.10" cy="408.00" r="1.8" fill="none" stroke="#4d5c98" stroke-width="1.1"/></g>
<g opacity="0.75"><circle cx="317.10" cy="410.00" r="3.95" fill="#c9d0ea" fill-opacity="0.25" stroke="#4d5c98" stroke-width="1.3"/><circle cx="317.10" cy="410.00" r="1.8" fill="none" stroke="#4d5c98" stroke-width="1.1"/></g>
<g opacity="0.75"><circle cx="317.10" cy="412.00" r="3.95" fill="#c9d0ea" fill-opacity="0.25" stroke="#4d5c98" stroke-width="1.3"/><circle cx="317.10" cy="412.00" r="1.8" fill="none" stroke="#4d5c98" stroke-width="1.1"/></g>
<g opacity="0.56"><circle cx="317.10" cy="418.00" r="3.95" fill="#c9d0ea" fill-opacity="0.25" stroke="#4d5c98" stroke-width="1.3"/><circle cx="317.10" cy="418.00" r="1.8" fill="none" stroke="#4d5c98" stroke-width="1.1"/></g>
<g opacity="0.56"><circle cx="317.10" cy="420.50" r="3.95" fill="#c9d0ea" fill-opacity="0.25" stroke="#4d5c98" stroke-width="1.3"/><circle cx="317.10" cy="420.50" r="1.8" fill="none" stroke="#4d5c98" stroke-width="1.1"/></g>
<g opacity="0.75"><circle cx="317.10" cy="430.50" r="3.95" fill="#c9d0ea" fill-opacity="0.25" stroke="#4d5c98" stroke-width="1.3"/><circle cx="317.10" cy="430.50" r="1.8" fill="none" stroke="#4d5c98" stroke-width="1.1"/></g>
<g opacity="0.75"><circle cx="317.10" cy="432.50" r="3.95" fill="#c9d0ea" fill-opacity="0.25" stroke="#4d5c98" stroke-width="1.3"/><circle cx="317.10" cy="432.50" r="1.8" fill="none" stroke="#4d5c98" stroke-width="1.1"/></g>
<g opacity="0.75"><circle cx="317.10" cy="434.50" r="3.95" fill="#c9d0ea" fill-opacity="0.25" stroke="#4d5c98" stroke-width="1.3"/><circle cx="317.10" cy="434.50" r="1.8" fill="none" stroke="#4d5c98" stroke-width="1.1"/></g>
<g opacity="0.62"><circle cx="317.10" cy="436.80" r="3.95" fill="#c9d0ea" fill-opacity="0.25" stroke="#4d5c98" stroke-width="1.3"/><circle cx="317.10" cy="436.80" r="1.8" fill="none" stroke="#4d5c98" stroke-width="1.1"/></g>
<g opacity="0.56"><circle cx="317.10" cy="438.50" r="3.95" fill="#c9d0ea" fill-opacity="0.25" stroke="#4d5c98" stroke-width="1.3"/><circle cx="317.10" cy="438.50" r="1.8" fill="none" stroke="#4d5c98" stroke-width="1.1"/></g>
<g opacity="0.56"><circle cx="316.90" cy="458.20" r="3.95" fill="#c9d0ea" fill-opacity="0.25" stroke="#4d5c98" stroke-width="1.3"/><circle cx="316.90" cy="458.20" r="1.8" fill="none" stroke="#4d5c98" stroke-width="1.1"/></g>
<g opacity="0.75"><circle cx="316.90" cy="462.50" r="3.95" fill="#c9d0ea" fill-opacity="0.25" stroke="#4d5c98" stroke-width="1.3"/><circle cx="316.90" cy="462.50" r="1.8" fill="none" stroke="#4d5c98" stroke-width="1.1"/></g>
<g opacity="0.75"><circle cx="316.90" cy="465.00" r="3.95" fill="#c9d0ea" fill-opacity="0.25" stroke="#4d5c98" stroke-width="1.3"/><circle cx="316.90" cy="465.00" r="1.8" fill="none" stroke="#4d5c98" stroke-width="1.1"/></g>
<g opacity="0.75"><circle cx="316.90" cy="467.50" r="3.95" fill="#c9d0ea" fill-opacity="0.25" stroke="#4d5c98" stroke-width="1.3"/><circle cx="316.90" cy="467.50" r="1.8" fill="none" stroke="#4d5c98" stroke-width="1.1"/></g>
<g opacity="0.69"><circle cx="316.90" cy="470.00" r="3.95" fill="#c9d0ea" fill-opacity="0.25" stroke="#4d5c98" stroke-width="1.3"/><circle cx="316.90" cy="470.00" r="1.8" fill="none" stroke="#4d5c98" stroke-width="1.1"/></g>
<g opacity="0.88"><circle cx="316.90" cy="472.90" r="3.95" fill="#c9d0ea" fill-opacity="0.25" stroke="#4d5c98" stroke-width="1.3"/><circle cx="316.90" cy="472.90" r="1.8" fill="none" stroke="#4d5c98" stroke-width="1.1"/></g>
<g opacity="1.00"><circle cx="316.90" cy="475.50" r="3.95" fill="#c9d0ea" fill-opacity="0.25" stroke="#4d5c98" stroke-width="1.3"/><circle cx="316.90" cy="475.50" r="1.8" fill="none" stroke="#4d5c98" stroke-width="1.1"/></g>
<g opacity="0.56"><circle cx="316.90" cy="478.40" r="3.95" fill="#c9d0ea" fill-opacity="0.25" stroke="#4d5c98" stroke-width="1.3"/><circle cx="316.90" cy="478.40" r="1.8" fill="none" stroke="#4d5c98" stroke-width="1.1"/></g>
<g opacity="0.56"><circle cx="316.90" cy="485.80" r="3.95" fill="#c9d0ea" fill-opacity="0.25" stroke="#4d5c98" stroke-width="1.3"/><circle cx="316.90" cy="485.80" r="1.8" fill="none" stroke="#4d5c98" stroke-width="1.1"/></g>
<g opacity="0.69"><circle cx="345.80" cy="448.90" r="3.95" fill="#c9d0ea" fill-opacity="0.25" stroke="#4d5c98" stroke-width="1.3"/><circle cx="345.80" cy="448.90" r="1.8" fill="none" stroke="#4d5c98" stroke-width="1.1"/></g>
<g opacity="0.69"><circle cx="345.80" cy="455.20" r="3.95" fill="#c9d0ea" fill-opacity="0.25" stroke="#4d5c98" stroke-width="1.3"/><circle cx="345.80" cy="455.20" r="1.8" fill="none" stroke="#4d5c98" stroke-width="1.1"/></g>
<g opacity="0.69"><circle cx="365.60" cy="461.60" r="3.95" fill="#c9d0ea" fill-opacity="0.25" stroke="#4d5c98" stroke-width="1.3"/><circle cx="365.60" cy="461.60" r="1.8" fill="none" stroke="#4d5c98" stroke-width="1.1"/></g>
<g opacity="0.69"><circle cx="383.30" cy="461.20" r="3.95" fill="#c9d0ea" fill-opacity="0.25" stroke="#4d5c98" stroke-width="1.3"/><circle cx="383.30" cy="461.20" r="1.8" fill="none" stroke="#4d5c98" stroke-width="1.1"/></g>
<g opacity="0.69"><circle cx="408.90" cy="453.80" r="3.95" fill="#c9d0ea" fill-opacity="0.25" stroke="#4d5c98" stroke-width="1.3"/><circle cx="408.90" cy="453.80" r="1.8" fill="none" stroke="#4d5c98" stroke-width="1.1"/></g>
<g opacity="0.69"><circle cx="420.50" cy="460.10" r="3.95" fill="#c9d0ea" fill-opacity="0.25" stroke="#4d5c98" stroke-width="1.3"/><circle cx="420.50" cy="460.10" r="1.8" fill="none" stroke="#4d5c98" stroke-width="1.1"/></g>
<g opacity="0.69"><circle cx="403.40" cy="467.50" r="3.95" fill="#c9d0ea" fill-opacity="0.25" stroke="#4d5c98" stroke-width="1.3"/><circle cx="403.40" cy="467.50" r="1.8" fill="none" stroke="#4d5c98" stroke-width="1.1"/></g>
<g opacity="0.69"><circle cx="416.70" cy="479.10" r="3.95" fill="#c9d0ea" fill-opacity="0.25" stroke="#4d5c98" stroke-width="1.3"/><circle cx="416.70" cy="479.10" r="1.8" fill="none" stroke="#4d5c98" stroke-width="1.1"/></g>
<g opacity="1.00"><circle cx="400.20" cy="398.70" r="3.95" fill="#c9d0ea" fill-opacity="0.25" stroke="#4d5c98" stroke-width="1.3"/><circle cx="400.20" cy="398.70" r="1.8" fill="none" stroke="#4d5c98" stroke-width="1.1"/></g>
<g opacity="0.69"><circle cx="423.20" cy="420.10" r="3.95" fill="#c9d0ea" fill-opacity="0.25" stroke="#4d5c98" stroke-width="1.3"/><circle cx="423.20" cy="420.10" r="1.8" fill="none" stroke="#4d5c98" stroke-width="1.1"/></g>
<g opacity="0.69"><circle cx="440.50" cy="446.90" r="3.95" fill="#c9d0ea" fill-opacity="0.25" stroke="#4d5c98" stroke-width="1.3"/><circle cx="440.50" cy="446.90" r="1.8" fill="none" stroke="#4d5c98" stroke-width="1.1"/></g>
<g opacity="0.69"><circle cx="440.50" cy="455.60" r="3.95" fill="#c9d0ea" fill-opacity="0.25" stroke="#4d5c98" stroke-width="1.3"/><circle cx="440.50" cy="455.60" r="1.8" fill="none" stroke="#4d5c98" stroke-width="1.1"/></g>
<g opacity="0.69"><circle cx="477.70" cy="388.30" r="3.95" fill="#c9d0ea" fill-opacity="0.25" stroke="#4d5c98" stroke-width="1.3"/><circle cx="477.70" cy="388.30" r="1.8" fill="none" stroke="#4d5c98" stroke-width="1.1"/></g>
<g opacity="0.69"><circle cx="474.10" cy="394.50" r="3.95" fill="#c9d0ea" fill-opacity="0.25" stroke="#4d5c98" stroke-width="1.3"/><circle cx="474.10" cy="394.50" r="1.8" fill="none" stroke="#4d5c98" stroke-width="1.1"/></g>
<g opacity="0.69"><circle cx="484.20" cy="393.00" r="3.95" fill="#c9d0ea" fill-opacity="0.25" stroke="#4d5c98" stroke-width="1.3"/><circle cx="484.20" cy="393.00" r="1.8" fill="none" stroke="#4d5c98" stroke-width="1.1"/></g>
<g opacity="0.69"><circle cx="484.90" cy="400.30" r="3.95" fill="#c9d0ea" fill-opacity="0.25" stroke="#4d5c98" stroke-width="1.3"/><circle cx="484.90" cy="400.30" r="1.8" fill="none" stroke="#4d5c98" stroke-width="1.1"/></g>
<g opacity="0.75"><circle cx="489.20" cy="386.80" r="3.95" fill="#c9d0ea" fill-opacity="0.25" stroke="#4d5c98" stroke-width="1.3"/><circle cx="489.20" cy="386.80" r="1.8" fill="none" stroke="#4d5c98" stroke-width="1.1"/></g>
<g opacity="0.75"><circle cx="489.20" cy="390.50" r="3.95" fill="#c9d0ea" fill-opacity="0.25" stroke="#4d5c98" stroke-width="1.3"/><circle cx="489.20" cy="390.50" r="1.8" fill="none" stroke="#4d5c98" stroke-width="1.1"/></g>
<g opacity="0.75"><circle cx="489.20" cy="394.50" r="3.95" fill="#c9d0ea" fill-opacity="0.25" stroke="#4d5c98" stroke-width="1.3"/><circle cx="489.20" cy="394.50" r="1.8" fill="none" stroke="#4d5c98" stroke-width="1.1"/></g>
<g opacity="0.75"><circle cx="489.20" cy="398.50" r="3.95" fill="#c9d0ea" fill-opacity="0.25" stroke="#4d5c98" stroke-width="1.3"/><circle cx="489.20" cy="398.50" r="1.8" fill="none" stroke="#4d5c98" stroke-width="1.1"/></g>
<g opacity="1.00"><circle cx="489.20" cy="407.10" r="3.95" fill="#c9d0ea" fill-opacity="0.25" stroke="#2c4a8c" stroke-width="1.3"/><circle cx="489.20" cy="407.10" r="1.8" fill="none" stroke="#2c4a8c" stroke-width="1.1"/></g>
<g opacity="0.69"><circle cx="456.50" cy="411.10" r="3.95" fill="#c9d0ea" fill-opacity="0.25" stroke="#4d5c98" stroke-width="1.3"/><circle cx="456.50" cy="411.10" r="1.8" fill="none" stroke="#4d5c98" stroke-width="1.1"/></g>
<g opacity="0.69"><circle cx="461.40" cy="416.10" r="3.95" fill="#c9d0ea" fill-opacity="0.25" stroke="#4d5c98" stroke-width="1.3"/><circle cx="461.40" cy="416.10" r="1.8" fill="none" stroke="#4d5c98" stroke-width="1.1"/></g>
<g opacity="0.69"><circle cx="456.50" cy="421.20" r="3.95" fill="#c9d0ea" fill-opacity="0.25" stroke="#4d5c98" stroke-width="1.3"/><circle cx="456.50" cy="421.20" r="1.8" fill="none" stroke="#4d5c98" stroke-width="1.1"/></g>
<g opacity="0.69"><circle cx="449.20" cy="423.30" r="3.95" fill="#c9d0ea" fill-opacity="0.25" stroke="#4d5c98" stroke-width="1.3"/><circle cx="449.20" cy="423.30" r="1.8" fill="none" stroke="#4d5c98" stroke-width="1.1"/></g>
<g opacity="0.69"><circle cx="474.40" cy="413.20" r="3.95" fill="#c9d0ea" fill-opacity="0.25" stroke="#4d5c98" stroke-width="1.3"/><circle cx="474.40" cy="413.20" r="1.8" fill="none" stroke="#4d5c98" stroke-width="1.1"/></g>
<g opacity="0.69"><circle cx="474.40" cy="418.30" r="3.95" fill="#c9d0ea" fill-opacity="0.25" stroke="#4d5c98" stroke-width="1.3"/><circle cx="474.40" cy="418.30" r="1.8" fill="none" stroke="#4d5c98" stroke-width="1.1"/></g>
<g opacity="0.69"><circle cx="489.60" cy="425.50" r="3.95" fill="#c9d0ea" fill-opacity="0.25" stroke="#4d5c98" stroke-width="1.3"/><circle cx="489.60" cy="425.50" r="1.8" fill="none" stroke="#4d5c98" stroke-width="1.1"/></g>
<g opacity="0.69"><circle cx="456.00" cy="436.30" r="3.95" fill="#c9d0ea" fill-opacity="0.25" stroke="#4d5c98" stroke-width="1.3"/><circle cx="456.00" cy="436.30" r="1.8" fill="none" stroke="#4d5c98" stroke-width="1.1"/></g>
<g opacity="1.00"><circle cx="489.00" cy="449.50" r="3.95" fill="#c9d0ea" fill-opacity="0.25" stroke="#2c4a8c" stroke-width="1.3"/><circle cx="489.00" cy="449.50" r="1.8" fill="none" stroke="#2c4a8c" stroke-width="1.1"/></g>
<g opacity="1.00"><circle cx="316.60" cy="539.60" r="3.95" fill="#c9d0ea" fill-opacity="0.25" stroke="#2c4a8c" stroke-width="1.3"/><circle cx="316.60" cy="539.60" r="1.8" fill="none" stroke="#2c4a8c" stroke-width="1.1"/></g>
<g opacity="0.88"><circle cx="345.40" cy="539.60" r="3.95" fill="#c9d0ea" fill-opacity="0.25" stroke="#4d5c98" stroke-width="1.3"/><circle cx="345.40" cy="539.60" r="1.8" fill="none" stroke="#4d5c98" stroke-width="1.1"/></g>
<g opacity="0.56"><circle cx="411.50" cy="539.60" r="3.95" fill="#c9d0ea" fill-opacity="0.25" stroke="#4d5c98" stroke-width="1.3"/><circle cx="411.50" cy="539.60" r="1.8" fill="none" stroke="#4d5c98" stroke-width="1.1"/></g>
<g opacity="0.56"><circle cx="427.00" cy="539.60" r="3.95" fill="#c9d0ea" fill-opacity="0.25" stroke="#4d5c98" stroke-width="1.3"/><circle cx="427.00" cy="539.60" r="1.8" fill="none" stroke="#4d5c98" stroke-width="1.1"/></g>
<g opacity="1.00"><circle cx="430.80" cy="539.60" r="3.95" fill="#c9d0ea" fill-opacity="0.25" stroke="#2c4a8c" stroke-width="1.3"/><circle cx="430.80" cy="539.60" r="1.8" fill="none" stroke="#2c4a8c" stroke-width="1.1"/></g>
<g opacity="1.00"><circle cx="440.40" cy="539.60" r="3.95" fill="#c9d0ea" fill-opacity="0.25" stroke="#2c4a8c" stroke-width="1.3"/><circle cx="440.40" cy="539.60" r="1.8" fill="none" stroke="#2c4a8c" stroke-width="1.1"/></g>
<g opacity="1.00"><circle cx="445.40" cy="539.60" r="3.95" fill="#c9d0ea" fill-opacity="0.25" stroke="#2c4a8c" stroke-width="1.3"/><circle cx="445.40" cy="539.60" r="1.8" fill="none" stroke="#2c4a8c" stroke-width="1.1"/></g>
<g opacity="0.62"><circle cx="453.80" cy="539.60" r="3.95" fill="#c9d0ea" fill-opacity="0.25" stroke="#4d5c98" stroke-width="1.3"/><circle cx="453.80" cy="539.60" r="1.8" fill="none" stroke="#4d5c98" stroke-width="1.1"/></g>
<g opacity="1.00"><circle cx="488.80" cy="539.60" r="3.95" fill="#c9d0ea" fill-opacity="0.25" stroke="#2c4a8c" stroke-width="1.3"/><circle cx="488.80" cy="539.60" r="1.8" fill="none" stroke="#2c4a8c" stroke-width="1.1"/></g>
<line x1="288.6" y1="446.0" x2="496.5" y2="446.0" stroke="#23476e" stroke-width="2" stroke-dasharray="5.4 4.9" stroke-dashoffset="-1.5"/>
<line x1="431.5" y1="380.4" x2="431.5" y2="570.6" stroke="#23476e" stroke-width="2" stroke-dasharray="5.4 4.9"/>
<rect x="292.5" y="383.3" width="63" height="59.4" fill="none" stroke="#16467e" stroke-width="1.9"/>
<text x="325.80" y="424.87" font-size="9.4" textLength="25.90" lengthAdjust="spacingAndGlyphs">n = 14</text>
<text x="326.70" y="435.87" font-size="9.4" textLength="25.60" lengthAdjust="spacingAndGlyphs">(9 pts)</text>
<rect x="288.6" y="380.4" width="206.40" height="190.20" fill="none" stroke="#222" stroke-width="1.3"/>
<line x1="284.60" y1="385.00" x2="288.60" y2="385.00" stroke="#1a1a1a" stroke-width="1"/>
<line x1="284.60" y1="416.20" x2="288.60" y2="416.20" stroke="#1a1a1a" stroke-width="1"/>
<line x1="284.60" y1="446.70" x2="288.60" y2="446.70" stroke="#1a1a1a" stroke-width="1"/>
<line x1="284.60" y1="477.90" x2="288.60" y2="477.90" stroke="#1a1a1a" stroke-width="1"/>
<line x1="284.60" y1="508.70" x2="288.60" y2="508.70" stroke="#1a1a1a" stroke-width="1"/>
<line x1="284.60" y1="539.80" x2="288.60" y2="539.80" stroke="#1a1a1a" stroke-width="1"/>
<text x="281.20" y="388.15" font-size="8.8" text-anchor="end" fill="#2a2a2a">100</text>
<text x="281.20" y="419.35" font-size="8.8" text-anchor="end" fill="#2a2a2a">10</text>
<text x="281.20" y="449.85" font-size="8.8" text-anchor="end" fill="#2a2a2a">1</text>
<text x="281.20" y="481.05" font-size="8.8" text-anchor="end" fill="#2a2a2a">&lt;Q</text>
<text x="272.70" y="538.20" font-size="8.8" text-anchor="end" fill="#2a2a2a">TP53</text>
<text x="273.00" y="533.20" font-size="5.8" font-style="italic" fill="#2a2a2a">mt</text>
<text x="281.50" y="550.45" font-size="8.8" text-anchor="end" fill="#2a2a2a">neg</text>
<line x1="317.20" y1="570.60" x2="317.20" y2="574.60" stroke="#1a1a1a" stroke-width="1"/>
<line x1="345.50" y1="570.60" x2="345.50" y2="574.60" stroke="#1a1a1a" stroke-width="1"/>
<line x1="374.20" y1="570.60" x2="374.20" y2="574.60" stroke="#1a1a1a" stroke-width="1"/>
<line x1="403.30" y1="570.60" x2="403.30" y2="574.60" stroke="#1a1a1a" stroke-width="1"/>
<line x1="431.60" y1="570.60" x2="431.60" y2="574.60" stroke="#1a1a1a" stroke-width="1"/>
<line x1="460.60" y1="570.60" x2="460.60" y2="574.60" stroke="#1a1a1a" stroke-width="1"/>
<line x1="489.50" y1="570.60" x2="489.50" y2="574.60" stroke="#1a1a1a" stroke-width="1"/>
<text x="314.40" y="583.95" font-size="8.8" text-anchor="middle" fill="#2a2a2a">MRD neg</text>
<text x="345.50" y="583.95" font-size="8.8" text-anchor="middle" fill="#2a2a2a">&lt;Q</text>
<text x="374.20" y="583.95" font-size="8.8" text-anchor="middle" fill="#2a2a2a">0.01</text>
<text x="403.30" y="583.95" font-size="8.8" text-anchor="middle" fill="#2a2a2a">0.1</text>
<text x="431.60" y="583.95" font-size="8.8" text-anchor="middle" fill="#2a2a2a">1</text>
<text x="460.60" y="583.95" font-size="8.8" text-anchor="middle" fill="#2a2a2a">10</text>
<text x="489.50" y="583.95" font-size="8.8" text-anchor="middle" fill="#2a2a2a">100</text>
<text x="391.60" y="599.78" font-size="10" text-anchor="middle" textLength="55.70" lengthAdjust="spacingAndGlyphs">% MRD (IG/TR)</text>
<text x="0" y="0" font-size="10" text-anchor="middle" fill="#333" transform="translate(245.0 476.2) rotate(-90)" textLength="53.7" lengthAdjust="spacingAndGlyphs">% of <tspan font-style="italic">TP53</tspan> VAF</text>
</svg>
</body></html>
